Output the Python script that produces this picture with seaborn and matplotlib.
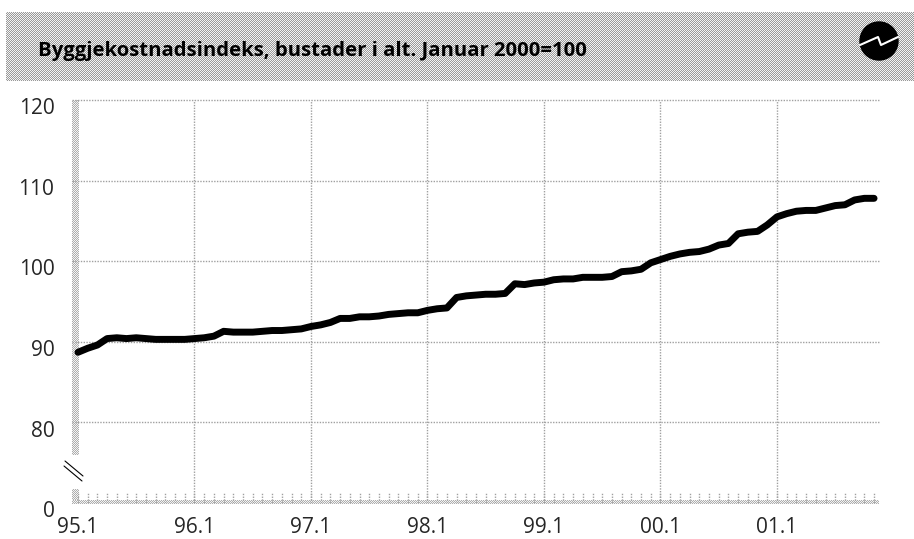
import numpy as np
import pandas as pd
import matplotlib
matplotlib.use("Agg")
import matplotlib.pyplot as plt
from matplotlib.patches import Circle
from matplotlib.transforms import ScaledTranslation
import seaborn as sns

title = "Byggjekostnadsindeks, bustader i alt. Januar 2000=100"

# monthly index, 95.1 to 01.11
index_values = [
    88.7, 89.2, 89.6, 90.4, 90.5, 90.4, 90.5, 90.4, 90.3, 90.3, 90.3, 90.3,
    90.4, 90.5, 90.7, 91.3, 91.2, 91.2, 91.2, 91.3, 91.4, 91.4, 91.5, 91.6,
    91.9, 92.1, 92.4, 92.9, 92.9, 93.1, 93.1, 93.2, 93.4, 93.5, 93.6, 93.6,
    93.9, 94.1, 94.2, 95.5, 95.7, 95.8, 95.9, 95.9, 96.0, 97.2, 97.1, 97.3,
    97.4, 97.7, 97.8, 97.8, 98.0, 98.0, 98.0, 98.1, 98.7, 98.8, 99.0, 99.8,
    100.2, 100.6, 100.9, 101.1, 101.2, 101.5, 102.0, 102.2, 103.4, 103.6, 103.7, 104.5,
    105.5, 105.9, 106.2, 106.3, 106.3, 106.6, 106.9, 107.0, 107.6, 107.8, 107.8,
]
year_ticks = [0, 12, 24, 36, 48, 60, 72]
year_labels = ["95.1", "96.1", "97.1", "98.1", "99.1", "00.1", "01.1"]
y_ticks = [70, 80, 90, 100, 110, 120]
y_labels = ["0", "80", "90", "100", "110", "120"]

df = pd.DataFrame({"month": range(len(index_values)), "index": index_values})

sns.set_style("white")
plt.rcParams["font.family"] = ["Open Sans", "DejaVu Sans"]

W, H = 914, 539
fig = plt.figure(figsize=(W / 100, H / 100), dpi=100)

# background layer in pixel coordinates, for the stippled bar and the logo
bg = fig.add_axes([0, 0, 1, 1])
bg.set_xlim(0, W)
bg.set_ylim(H, 0)
bg.axis("off")


def stipple(x0, y0, x1, y1, light=0.95, dark=0.6):
    yy, xx = np.indices((y1 - y0, x1 - x0))
    cells = np.where((xx + yy) % 2 == 0, light, dark)
    bg.imshow(cells, extent=(x0, x1, y1, y0), cmap="gray", vmin=0, vmax=1,
              aspect="auto", interpolation="nearest", zorder=1)


stipple(6, 12, W, 81)
stipple(72, 100, 79, 455, light=0.95, dark=0.68)
stipple(72, 489, 79, 503, light=0.95, dark=0.68)
stipple(72, 500, 879, 504, light=0.95, dark=0.68)
bg.set_xlim(0, W)
bg.set_ylim(H, 0)

bg.text(38, 51, title, fontsize=14.6, fontweight="bold", color="black",
        va="center", ha="left", zorder=3)

# logo
bg.add_patch(Circle((879, 41), 19, color="black", zorder=3))
bg.plot([860, 878, 881, 898], [45, 37, 45, 37], color="white", lw=1.5, zorder=4)

# axis break
bg.plot([64, 82], [466, 481], color="black", lw=0.8, zorder=3)
bg.plot([65, 83], [461, 476], color="black", lw=0.8, zorder=3)

ax = fig.add_axes([78 / W, 1 - 503 / H, (879 - 78) / W, (503 - 100) / H])
ax.patch.set_alpha(0)
sns.lineplot(data=df, x="month", y="index", ax=ax, color="black", linewidth=5,
             zorder=5, clip_on=False, solid_capstyle="round", solid_joinstyle="round")

ax.set_xlim(0, (879 - 78) / 9.708)
ax.set_ylim(70, 120)
ax.set_xlabel("")
ax.set_ylabel("")
sns.despine(ax=ax, left=True, bottom=True)

ax.set_xticks(year_ticks)
ax.set_xticklabels(year_labels, fontsize=15)
ax.set_yticks(y_ticks)
ax.set_yticklabels(y_labels, fontsize=15)
ax.tick_params(axis="x", length=0, pad=10)
ax.tick_params(axis="y", length=0, pad=17)

# y labels sit a little below their gridlines
shift = ScaledTranslation(0, -4.5 / 72, fig.dpi_scale_trans)
for lab in ax.get_yticklabels():
    lab.set_transform(lab.get_transform() + shift)

# dotted grid, the bottom value only has the baseline
grid_style = dict(color="#a0a0a0", lw=1.0, ls=(0, (1, 1)), zorder=1)
for y in y_ticks[1:]:
    ax.plot([-6 * 0.103, ax.get_xlim()[1]], [y, y], clip_on=False, **grid_style)
for x in year_ticks[1:]:
    ax.axvline(x, **grid_style)

# monthly ticks on the baseline
ax.vlines(range(len(index_values)), 70, 71.4, color="#a0a0a0", lw=1.0, ls=(0, (1, 1)), zorder=1)

fig.savefig("out.png", dpi=100)
